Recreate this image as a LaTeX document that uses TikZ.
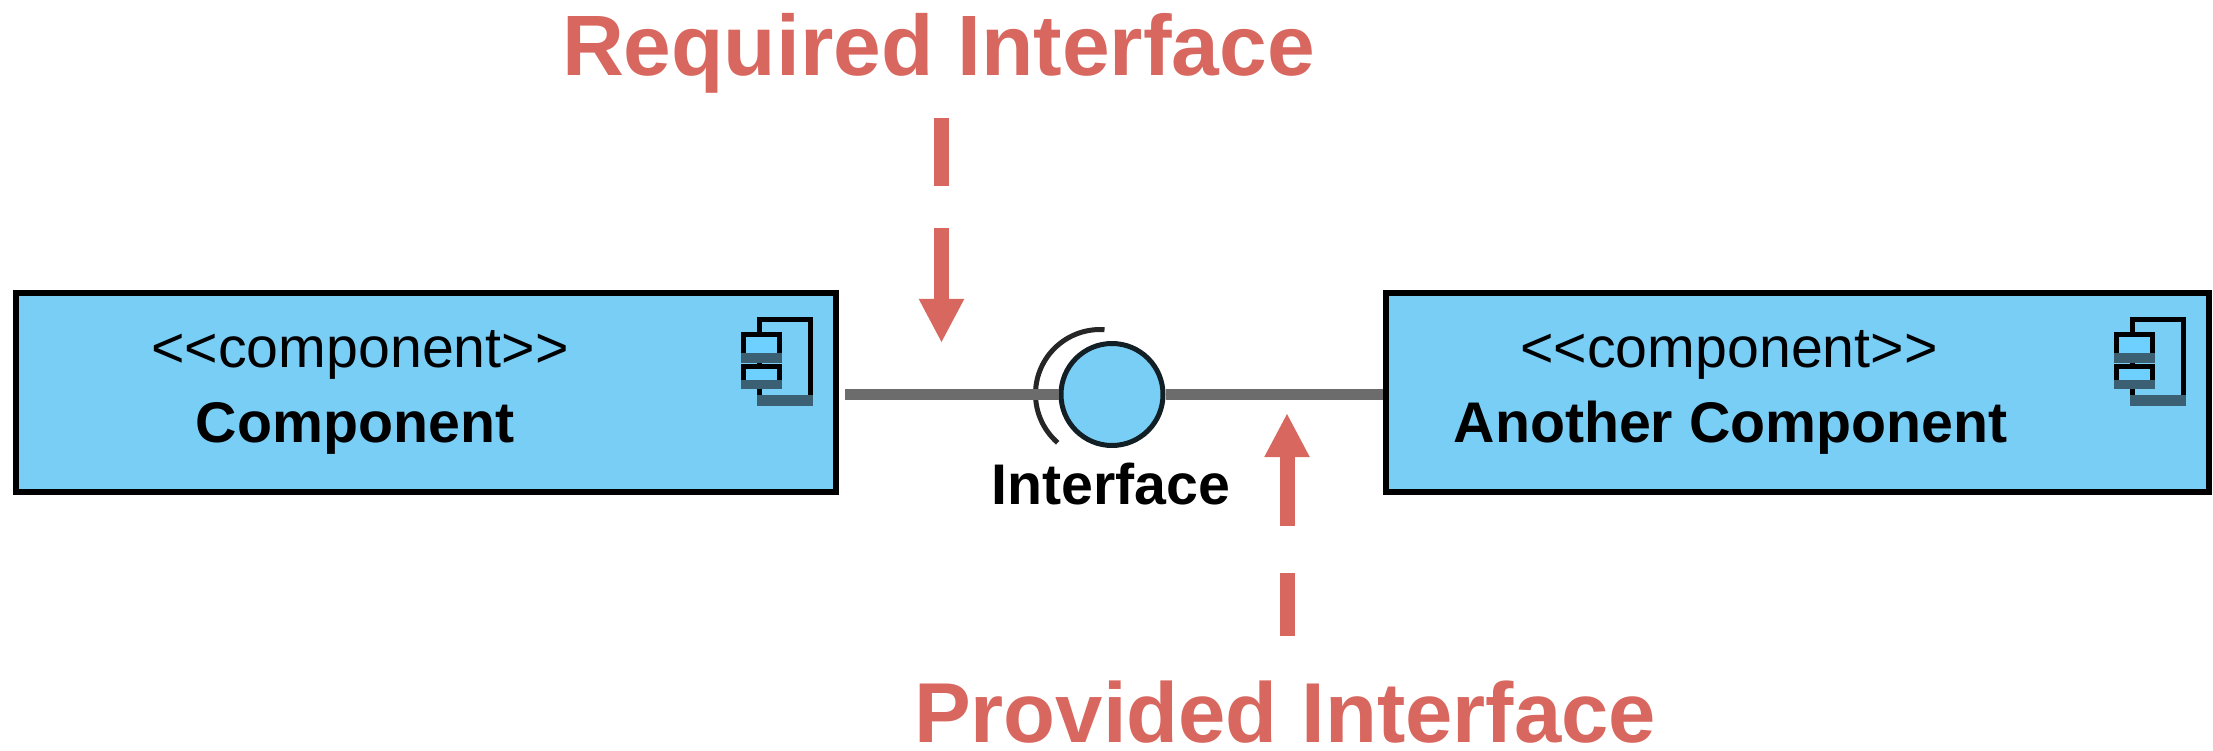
\documentclass[tikz,border=0pt]{standalone}
\usepackage{fontspec}
\setmainfont{Liberation Sans}
\usetikzlibrary{arrows.meta}
\definecolor{compblue}{HTML}{79CEF6}
\definecolor{iconblue}{HTML}{6DD0FF}
\definecolor{icondark}{HTML}{3B5F73}
\definecolor{notered}{HTML}{D8675F}
\definecolor{linegray}{HTML}{6C6C6C}
\tikzset{
  component/.style={draw=black, fill=compblue, line width=0.06cm},
  wire/.style={draw=linegray, line width=0.1cm},
  ball/.style={circle, draw=black!85!compblue, fill=compblue, line width=0.05cm, minimum size=1.02cm, inner sep=0},
  socket/.style={draw=black!85, line width=0.05cm},
  note/.style={notered, font=\fontsize{24.4}{24.4}\selectfont\bfseries, inner sep=0, outer sep=0, anchor=base west},
  notearrow/.style={draw=notered, line width=0.15cm},
  notehead/.style={notearrow, -{Triangle[length=0.44cm, width=0.42cm]}},
  stereo/.style={font=\fontsize{16.3}{16.3}\selectfont, inner sep=0, outer sep=0, anchor=base},
  compname/.style={font=\fontsize{16.3}{16.3}\selectfont\bfseries, inner sep=0, outer sep=0, anchor=base},
  compicon/.pic={
    \draw [black, fill=compblue, line width=0.05cm] (0,0) rectangle (0.51,-0.8);
    \fill [icondark] (-0.025,-0.75) rectangle (0.535,-0.86);
    \draw [black, fill=iconblue, line width=0.05cm] (-0.16,-0.15) rectangle (0.2,-0.38);
    \fill [icondark] (-0.185,-0.33) rectangle (0.225,-0.43);
    \draw [black, fill=iconblue, line width=0.05cm] (-0.16,-0.47) rectangle (0.2,-0.66);
    \fill [icondark] (-0.185,-0.6) rectangle (0.225,-0.69);
  }
}
\begin{document}
\begin{tikzpicture}
      \useasboundingbox (0,0) rectangle (22.13,7.5);

      \node [component, inner sep=0, minimum width=8.2cm, minimum height=1.99cm] (comp) at (4.26,3.575) {};
      \node [component, inner sep=0, minimum width=8.23cm, minimum height=1.99cm] (other) at (17.975,3.575) {};

      \node [stereo] (compst) at (3.6,3.82) {<{}<component>{}>};
      \node [compname] (compnm) at (3.55,3.08) {Component};
      \node [stereo] (otherst) at (17.29,3.82) {<{}<component>{}>};
      \node [compname] (othernm) at (17.305,3.08) {Another Component};

      \pic at (7.59,4.30) {compicon};
      \pic at (21.32,4.30) {compicon};

      \node [ball] (iface) at (11.12,3.555) {};
      \coordinate (sock) at (11.045,4.203);
      \coordinate (wireend) at (8.45,3.555);
      \draw [socket] (sock) arc [start angle=86, end angle=229, radius=0.645];
      \draw [wire] (wireend) -- (iface.west);
      \draw [wire] (iface.east) -- (iface.east -| other.west);
      \node [compname] (ifacenm) at (11.11,2.45) {Interface};

      \node [note] (reqnm) at (5.62,6.74) {Required Interface};
      \coordinate (req1) at (9.415,6.32);
      \coordinate (req2) at (9.415,5.64);
      \coordinate (req3) at (9.415,5.22);
      \coordinate (req4) at (9.415,4.07);
      \draw [notearrow] (req1) -- (req2);
      \draw [notehead] (req3) -- (req4);

      \node [note, font=\fontsize{24.2}{24.2}\selectfont\bfseries] (provnm) at (9.14,0.08) {Provided Interface};
      \coordinate (prov1) at (12.87,1.14);
      \coordinate (prov2) at (12.87,1.77);
      \coordinate (prov3) at (12.87,2.24);
      \coordinate (prov4) at (12.87,3.37);
      \draw [notearrow] (prov1) -- (prov2);
      \draw [notehead] (prov3) -- (prov4);
\end{tikzpicture}
\end{document}
